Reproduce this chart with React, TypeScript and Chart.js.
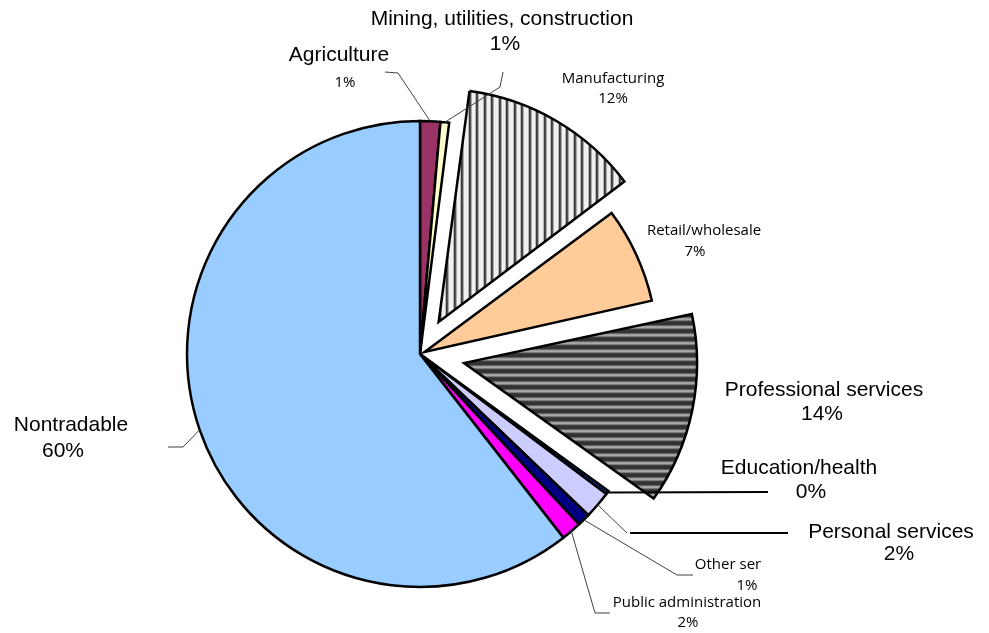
import React, { useEffect, useRef } from 'react';
import { Chart, registerables } from 'chart.js';

Chart.register(...registerables);

// ---- data ----
const categories = [
  'Agriculture',
  'Mining, utilities, construction',
  'Manufacturing',
  'Retail/wholesale',
  'Professional services',
  'Education/health',
  'Personal services',
  'Other ser',
  'Public administration',
  'Nontradable',
];
const shares = [1.4, 0.6, 12.8, 6.7, 13.5, 0.25, 1.9, 0.9, 1.4, 60.55];
const shareLabels = ['1%', '1%', '12%', '7%', '14%', '0%', '2%', '1%', '2%', '60%'];
const explode = [0, 0, 148, 20, 180, 0, 0, 0, 0, 0];

// ---- styles / layout ----
const W = 989;
const H = 633;
const RADIUS = 233;
const BIG = '21px "Liberation Sans", Arial, sans-serif';
const SMALL = '15px "Open Sans", sans-serif';

type Pt = [number, number];
type Layout = {
  name: [number, number, string];
  pct: [number, number, string];
  path: Pt[];
  thin: boolean;
  tail?: Pt[];
};

const layouts: Layout[] = [
  { name: [339, 55, BIG], pct: [345, 83, SMALL], path: [[398, 73], [385, 72]], thin: true },
  { name: [502, 19, BIG], pct: [505, 44, BIG], path: [[500, 87], [503, 72]], thin: true },
  { name: [613, 79, SMALL], pct: [613, 99, SMALL], path: [], thin: true },
  { name: [704, 231, SMALL], pct: [695, 252, SMALL], path: [], thin: true },
  { name: [824, 390, BIG], pct: [822, 414, BIG], path: [], thin: true },
  { name: [799, 468, BIG], pct: [811, 492, BIG], path: [[768, 492]], thin: false },
  { name: [891, 532, BIG], pct: [899, 554, BIG], path: [[627, 533]], thin: true, tail: [[630, 533], [788, 533]] },
  { name: [728, 565, SMALL], pct: [747, 586, SMALL], path: [[677, 575], [693, 575]], thin: true },
  { name: [687, 603, SMALL], pct: [688, 623, SMALL], path: [[595, 613], [610, 613]], thin: true },
  { name: [71, 425, BIG], pct: [63, 451, BIG], path: [[183, 447], [168, 447]], thin: true },
];

function makeVStripes(): CanvasPattern | string {
  const c = document.createElement('canvas');
  c.width = 15;
  c.height = 4;
  const g = c.getContext('2d');
  if (!g) return '#eeeeee';
  g.fillStyle = '#f0f0f0';
  g.fillRect(0, 0, 15, 4);
  g.fillStyle = '#3a3a3a';
  g.fillRect(0, 0, 2, 4);
  g.fillRect(7, 0, 2, 4);
  g.fillStyle = '#8a8a8a';
  g.fillRect(2, 0, 1, 4);
  g.fillRect(9, 0, 1, 4);
  const p = g.createPattern(c, 'repeat');
  return p || '#eeeeee';
}

function makeHStripes(): CanvasPattern | string {
  const c = document.createElement('canvas');
  c.width = 4;
  c.height = 8;
  const g = c.getContext('2d');
  if (!g) return '#777777';
  g.fillStyle = '#333333';
  g.fillRect(0, 0, 4, 4);
  g.fillStyle = '#707070';
  g.fillRect(0, 4, 4, 1);
  g.fillStyle = '#a8a8a8';
  g.fillRect(0, 5, 4, 2);
  g.fillStyle = '#707070';
  g.fillRect(0, 7, 4, 1);
  const p = g.createPattern(c, 'repeat');
  return p || '#777777';
}

const radiusFix = {
  id: 'radiusFix',
  beforeDatasetsDraw(chart: any) {
    const meta = chart.getDatasetMeta(0);
    meta.data.forEach((arc: any, i: number) => {
      const t = explode[i] / 4;
      const circ = arc.circumference || 0;
      const fix = 1 - Math.sin(Math.min(Math.PI, circ));
      arc.outerRadius = RADIUS - t * fix;
    });
  },
};

const labelPlugin = {
  id: 'sliceLabels',
  afterDatasetsDraw(chart: any) {
    const ctx: CanvasRenderingContext2D = chart.ctx;
    const meta = chart.getDatasetMeta(0);
    ctx.save();
    meta.data.forEach((arc: any, i: number) => {
      const L = layouts[i];
      const mid = (arc.startAngle + arc.endAngle) / 2;
      const r = RADIUS + explode[i] / 4;
      const sx = arc.x + Math.cos(mid) * r;
      const sy = arc.y + Math.sin(mid) * r;
      if (L.path.length) {
        ctx.beginPath();
        ctx.moveTo(sx, sy);
        L.path.forEach(([px, py]) => ctx.lineTo(px, py));
        ctx.lineWidth = L.thin ? 1 : 2;
        ctx.strokeStyle = L.thin ? '#404040' : '#000000';
        ctx.stroke();
      }
      if (L.tail) {
        ctx.beginPath();
        ctx.moveTo(L.tail[0][0], L.tail[0][1]);
        L.tail.slice(1).forEach(([px, py]) => ctx.lineTo(px, py));
        ctx.lineWidth = 2;
        ctx.strokeStyle = '#000000';
        ctx.stroke();
      }
      ctx.fillStyle = '#000000';
      ctx.textAlign = 'center';
      ctx.textBaseline = 'middle';
      ctx.font = L.name[2];
      ctx.fillText(categories[i], L.name[0], L.name[1]);
      ctx.font = L.pct[2];
      ctx.fillText(shareLabels[i], L.pct[0], L.pct[1]);
    });
    ctx.restore();
  },
};

export default function App() {
  const ref = useRef<HTMLCanvasElement | null>(null);

  useEffect(() => {
    const canvas = ref.current;
    if (!canvas) return;
    const colors = [
      '#993366',
      '#FFFFCC',
      makeVStripes(),
      '#FFCC99',
      makeHStripes(),
      '#003399',
      '#CCCCFF',
      '#000080',
      '#FF00FF',
      '#99CCFF',
    ];
    const chart = new Chart(canvas, {
      type: 'pie',
      data: {
        labels: categories,
        datasets: [
          {
            data: shares,
            backgroundColor: colors as any,
            borderColor: '#000000',
            borderWidth: 2.5,
            borderJoinStyle: 'miter',
            offset: explode,
            clip: false,
          } as any,
        ],
      },
      plugins: [radiusFix, labelPlugin],
      options: {
        responsive: false,
        maintainAspectRatio: false,
        devicePixelRatio: 1,
        animation: false,
        events: [],
        radius: RADIUS,
        layout: { padding: { top: 75, right: 149, left: 0, bottom: 0 } },
        plugins: {
          legend: { display: false },
          tooltip: { enabled: false },
          title: { display: false },
        },
      } as any,
    });
    return () => chart.destroy();
  }, []);

  return (
    <div style={{ position: 'fixed', left: 0, top: 0, width: W, height: H, background: '#ffffff' }}>
      <canvas ref={ref} width={W} height={H} style={{ display: 'block', width: W, height: H }} />
    </div>
  );
}
